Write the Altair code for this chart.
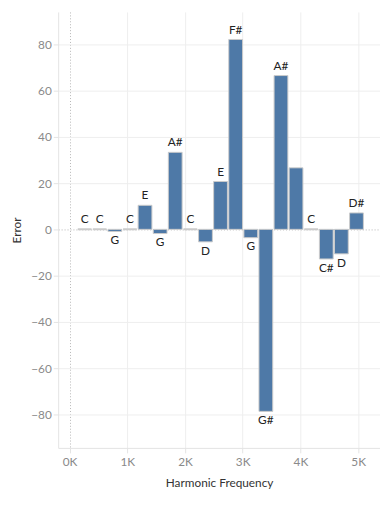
import altair as alt
import pandas as pd

# Harmonic frequencies (Hz) of C4 and the error (Hz) to the nearest equal-tempered note
harmonic_freq = [262, 523, 785, 1047, 1308, 1570, 1831, 2093, 2355, 2616,
                 2878, 3140, 3401, 3663, 3924, 4186, 4448, 4709, 4971]
error = [0, 0, -0.9, 0, 10.4, -1.8, 33.3, 0, -5.4, 20.7,
         82.1, -3.6, -78.7, 66.5, 26.6, 0, -12.8, -10.6, 7.1]
note = ["C", "C", "G", "C", "E", "G", "A#", "C", "D", "E",
        "F#", "G", "G#", "A#", "", "C", "C#", "D", "D#"]

x_ticks = [0, 1000, 2000, 3000, 4000, 5000]
y_ticks = [-80, -60, -40, -20, 0, 20, 40, 60, 80]

df = pd.DataFrame({"freq": harmonic_freq, "error": error, "note": note})

FONT = "Lato"
zero_color = {"condition": {"test": "datum.value === 0", "value": "#b5b5b5"}, "value": "#eeeeee"}
zero_dash = {"condition": {"test": "datum.value === 0", "value": [1, 2]}, "value": []}

x_scale = alt.Scale(domain=[-111, 5293], nice=False, zero=False)
y_scale = alt.Scale(domain=[-94.5, 94], nice=False, zero=False)

x_axis = alt.Axis(title="Harmonic Frequency", values=x_ticks,
                  labelExpr="(datum.value / 1000) + 'K'",
                  gridColor=zero_color, gridDash=zero_dash,
                  labelPadding=4, titlePadding=10)
y_axis = alt.Axis(title="Error", values=y_ticks,
                  gridColor=zero_color, gridDash=zero_dash,
                  labelPadding=2, titlePadding=7)

base = alt.Chart(df)

bars = base.mark_bar(size=14, color="#4e79a7", stroke="#cbcbcb").encode(
    x=alt.X("freq:Q", scale=x_scale, axis=x_axis),
    y=alt.Y("error:Q", scale=y_scale, axis=y_axis),
    y2=alt.datum(0),
    strokeWidth=alt.condition("datum.error == 0", alt.value(2), alt.value(1)),
)

pos_labels = base.transform_filter("datum.error >= 0").mark_text(
    baseline="alphabetic", dy=-6, fontSize=12, font=FONT, color="#222222"
).encode(x=alt.X("freq:Q", scale=x_scale), y=alt.Y("error:Q", scale=y_scale), text="note:N")

neg_labels = base.transform_filter("datum.error < 0").mark_text(
    baseline="top", dy=4, fontSize=12, font=FONT, color="#222222"
).encode(x=alt.X("freq:Q", scale=x_scale), y=alt.Y("error:Q", scale=y_scale), text="note:N")

chart = alt.layer(bars, pos_labels, neg_labels).properties(
    width=327, height=443,
    autosize=alt.AutoSizeParams(type="none"),
    padding={"left": 51, "top": 0, "right": 0, "bottom": 55},
).configure_view(stroke="transparent").configure_axis(
    labelColor="#8a8a8a", labelFont=FONT, labelFontSize=12,
    titleColor="#333333", titleFont=FONT, titleFontSize=12, titleFontWeight="normal",
    domainColor="#e3e3e3", tickColor="#e3e3e3", tickSize=5, grid=True,
)

chart.save("out.html", embed_options={"renderer": "svg", "actions": False})
